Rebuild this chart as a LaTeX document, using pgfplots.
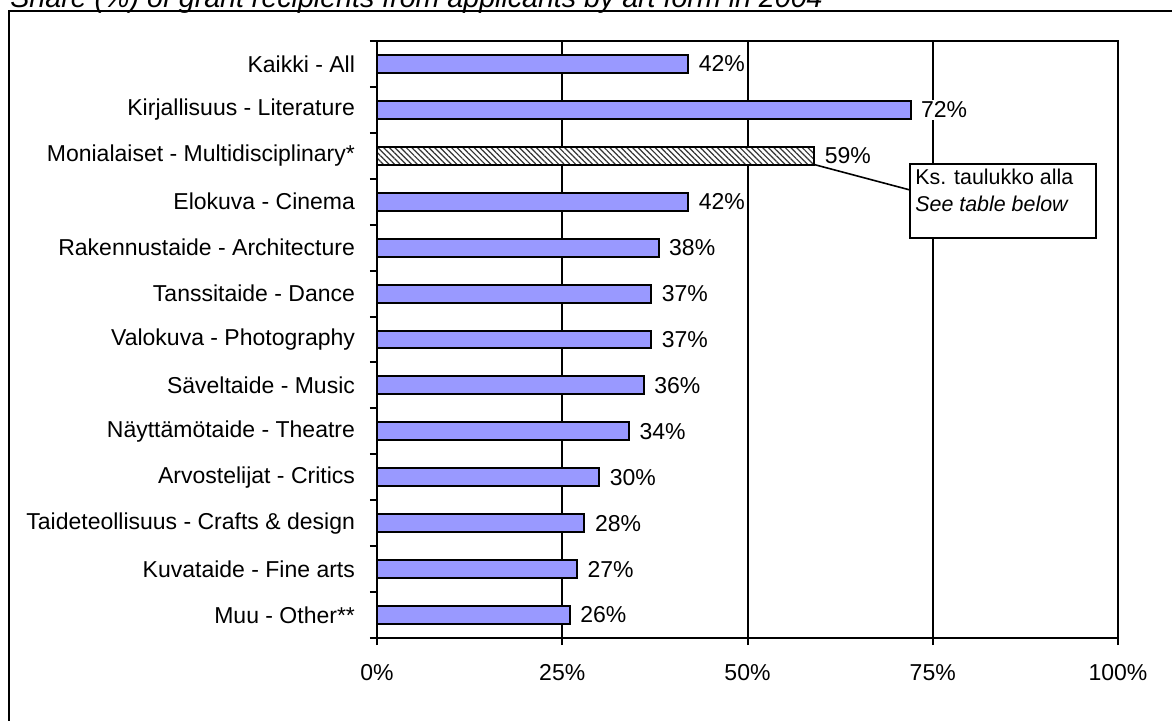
\documentclass[border=0pt]{standalone}
\usepackage{pgfplots}
\pgfplotsset{compat=1.18}
\usepackage{fontspec}
\setmainfont{Liberation Sans}
\usetikzlibrary{patterns.meta}
\definecolor{barblue}{HTML}{9999FF}
\begin{document}
\begin{tikzpicture}
\path[use as bounding box] (0,0) rectangle (586pt,360pt);
\node[anchor=base west, font=\fontsize{14.3}{16}\selectfont\itshape, inner sep=0] at (5pt,356.4pt) {Share (\%) of grant recipients from applicants by art form in 2004};
\draw[line width=1pt] (4.25pt,-10pt) -- (4.25pt,354.5pt) -- (600pt,354.5pt);
\begin{axis}[
  at={(188.5pt,41pt)}, anchor=south west,
  scale only axis, width=370.5pt, height=298.5pt,
  xbar, bar shift=0pt, bar width=0.39,
  xmin=0, xmax=100, ymin=-0.5, ymax=12.5,
  xtick={0,25,50,75,100}, xticklabels={0\%,25\%,50\%,75\%,100\%},
  ytick={0,...,12},
  yticklabels={Muu - Other**, Kuvataide - Fine arts, Taideteollisuus - Crafts \& design, Arvostelijat - Critics, Näyttämötaide - Theatre, Säveltaide - Music, Valokuva - Photography, Tanssitaide - Dance, Rakennustaide - Architecture, Elokuva - Cinema, Monialaiset - Multidisciplinary*, Kirjallisuus - Literature, Kaikki - All\ },
  minor ytick={-0.5,0.5,...,12.5},
  tick pos=left, tick align=outside,
  major tick length=3.5pt, minor tick length=3.5pt,
  every tick/.style={black, line width=1pt},
  every major y tick/.append style={draw=none},
  axis line style={line width=1pt},
  xmajorgrids, major grid style={black, line width=1pt},
  tick label style={font=\fontsize{11.5}{13}\selectfont},
  xticklabel style={yshift=-6pt},
  yticklabel style={xshift=-4pt},
  /pgf/number format/assume math mode=true,
  point meta=x,
  nodes near coords={\pgfmathprintnumber{\pgfplotspointmeta}\%},
  nodes near coords style={font=\fontsize{11.5}{13}\selectfont, anchor=west, fill=white, inner sep=1pt, xshift=3.8pt},
]
\addplot[draw=black, line width=1pt, fill=barblue] coordinates {
  (26,0) (27,1) (28,2) (30,3) (34,4) (36,5) (37,6) (37,7) (38,8) (42,9) (72,11) (42,12)
};
\addplot[draw=black, line width=1pt, fill=white, postaction={pattern={Lines[angle=-45,distance=2pt,line width=0.6pt]}, pattern color=black!80}] coordinates {
  (59,10)
};
\draw[line width=0.8pt] (axis cs:59,9.81) -- (axis cs:71.93,9.256);
\draw[line width=0.8pt, fill=white] (axis cs:71.93,9.822) rectangle (axis cs:97.03,8.211);
\node[anchor=base west, inner sep=0, font=\fontsize{10.7}{12}\selectfont] at (axis cs:72.6,9.365) {Ks. taulukko alla};
\node[anchor=base west, inner sep=0, font=\fontsize{10.7}{12}\selectfont\itshape] at (axis cs:72.6,8.777) {See table below};
\end{axis}
\end{tikzpicture}
\end{document}
